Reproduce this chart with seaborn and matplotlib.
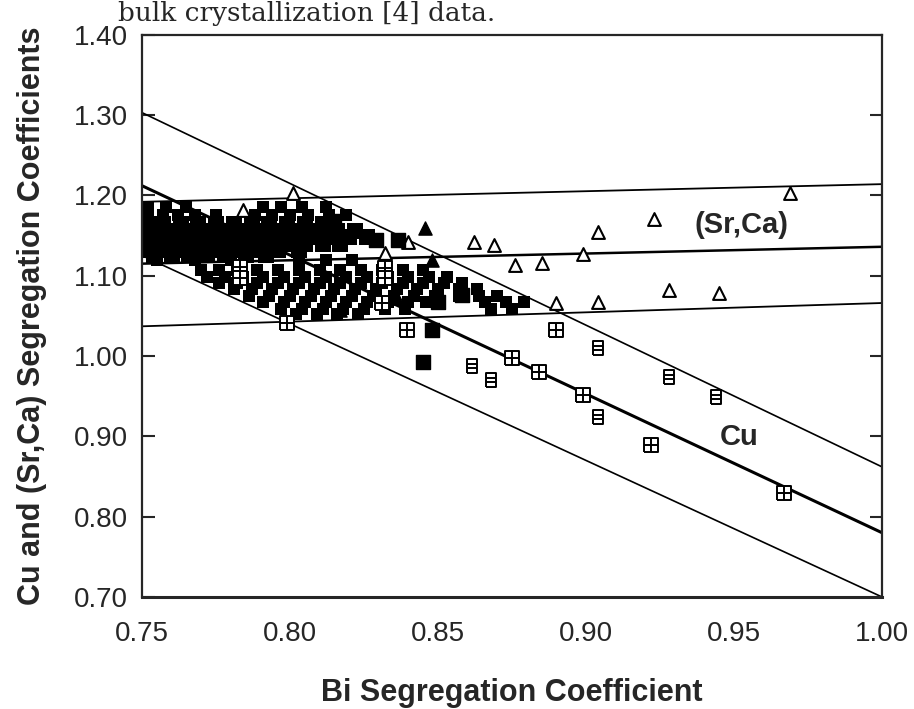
import matplotlib
matplotlib.use("Agg")
import matplotlib.pyplot as plt
from matplotlib.path import Path
import seaborn as sns

# axes
x_lim = [0.75, 1.00]
y_lim = [0.70, 1.40]
x_ticks = [0.75, 0.80, 0.85, 0.90, 0.95, 1.00]
y_ticks = [0.70, 0.80, 0.90, 1.00, 1.10, 1.20, 1.30, 1.40]

# band lines: y at x = 0.75 and x = 1.00
line_x = [0.75, 1.00]
cu_upper = [1.303, 0.862]
cu_mid = [1.212, 0.780]
cu_lower = [1.125, 0.700]
srca_top = [1.192, 1.214]
srca_mid = [1.115, 1.136]
srca_bot = [1.037, 1.066]

# (Sr,Ca) open triangles
srca_x = [0.784, 0.801, 0.832, 0.840, 0.862, 0.869, 0.876, 0.885, 0.890, 0.899,
          0.904, 0.904, 0.923, 0.928, 0.945, 0.969]
srca_y = [1.182, 1.203, 1.128, 1.142, 1.142, 1.138, 1.113, 1.116, 1.066, 1.127,
          1.067, 1.155, 1.170, 1.082, 1.079, 1.203]

# filled triangles
ftri_x = [0.8456, 0.848, 0.817, 0.836]
ftri_y = [1.160, 1.120, 1.057, 1.072]

# filled squares
fsq_x = [0.815, 0.829, 0.8365, 0.850, 0.858, 0.848, 0.845]
fsq_y = [1.168, 1.145, 1.145, 1.067, 1.076, 1.033, 0.993]

# Cu crossed squares
cux_x = [0.783, 0.783, 0.799, 0.832, 0.832, 0.831, 0.8395, 0.890, 0.875, 0.884,
         0.899, 0.922, 0.967]
cux_y = [1.111, 1.097, 1.041, 1.110, 1.097, 1.066, 1.033, 1.032, 0.998, 0.980,
         0.952, 0.889, 0.829]

# Cu lined squares
cul_x = [0.8615, 0.868, 0.904, 0.904, 0.928, 0.944]
cul_y = [0.987, 0.970, 1.010, 0.924, 0.974, 0.949]

# dense scanned cloud of points (rows: y, x values)
heavy_rows = [
    (1.164, [0.752, 0.757, 0.763, 0.769, 0.775, 0.781, 0.787, 0.793, 0.799, 0.805, 0.811]),
    (1.156, [0.752, 0.757, 0.762, 0.768, 0.774, 0.780, 0.786, 0.792, 0.798, 0.804, 0.810, 0.816, 0.822]),
    (1.148, [0.752, 0.758, 0.764, 0.770, 0.776, 0.782, 0.788, 0.795, 0.801, 0.807, 0.813, 0.820, 0.826]),
    (1.140, [0.752, 0.757, 0.763, 0.769, 0.775, 0.781, 0.787, 0.793, 0.799, 0.805, 0.811, 0.817]),
    (1.132, [0.753, 0.759, 0.765, 0.771, 0.777, 0.783, 0.789, 0.796, 0.803]),
    (1.126, [0.754, 0.760, 0.766, 0.772, 0.778, 0.785, 0.792]),
]
light_rows = [
    (1.185, [0.752, 0.758, 0.765, 0.791, 0.797, 0.804, 0.812]),
    (1.176, [0.752, 0.757, 0.762, 0.768, 0.775, 0.788, 0.794, 0.800, 0.806, 0.813, 0.819]),
    (1.119, [0.755, 0.768, 0.780, 0.803, 0.812, 0.821]),
    (1.107, [0.770, 0.776, 0.782, 0.789, 0.796, 0.803, 0.810, 0.817, 0.824, 0.831, 0.838, 0.845]),
    (1.099, [0.772, 0.778, 0.784, 0.791, 0.798, 0.805, 0.812, 0.819, 0.826, 0.833, 0.840, 0.847, 0.853]),
    (1.091, [0.776, 0.782, 0.789, 0.796, 0.803, 0.810, 0.817, 0.824, 0.831, 0.838, 0.845, 0.852, 0.858]),
    (1.083, [0.781, 0.787, 0.794, 0.801, 0.808, 0.815, 0.822, 0.829, 0.836, 0.843, 0.850, 0.857, 0.863]),
    (1.075, [0.786, 0.793, 0.800, 0.807, 0.814, 0.821, 0.828, 0.835, 0.842, 0.849, 0.857, 0.864, 0.870]),
    (1.067, [0.791, 0.798, 0.805, 0.812, 0.819, 0.826, 0.833, 0.840, 0.846, 0.866, 0.873, 0.879]),
    (1.059, [0.797, 0.804, 0.811, 0.818, 0.825, 0.832, 0.839, 0.868, 0.875]),
    (1.052, [0.802, 0.809, 0.816, 0.823]),
]

heavy_x = [x for y, xs in heavy_rows for x in xs]
heavy_y = [y for y, xs in heavy_rows for x in xs]
light_x = [x for y, xs in light_rows for x in xs]
light_y = [y for y, xs in light_rows for x in xs]

sns.set_style("ticks")
plt.rcParams['font.family'] = ['Liberation Sans', 'DejaVu Sans']

# marker shapes for the Cu squares
crossed_box = Path([(-1, -1), (1, -1), (1, 1), (-1, 1), (-1, -1),
                    (0, -1), (0, 1), (-1, 0), (1, 0)],
                   [Path.MOVETO, Path.LINETO, Path.LINETO, Path.LINETO, Path.LINETO,
                    Path.MOVETO, Path.LINETO, Path.MOVETO, Path.LINETO])
lined_box = Path([(-0.8, -1), (0.8, -1), (0.8, 1), (-0.8, 1), (-0.8, -1),
                  (-0.8, -0.33), (0.8, -0.33), (-0.8, 0.33), (0.8, 0.33)],
                 [Path.MOVETO, Path.LINETO, Path.LINETO, Path.LINETO, Path.LINETO,
                  Path.MOVETO, Path.LINETO, Path.MOVETO, Path.LINETO])

fig = plt.figure(figsize=(9.14, 7.09), dpi=100)
ax = fig.add_axes([0.1554, 0.158, 0.8096, 0.793])

# cloud
sns.scatterplot(x=light_x, y=light_y, marker='s', s=75, color='black', linewidth=0, ax=ax)
sns.scatterplot(x=heavy_x, y=heavy_y, marker='s', s=120, color='black', linewidth=0, ax=ax)

# lines
for ys, lw in [(cu_upper, 1.2), (cu_mid, 2.2), (cu_lower, 1.2),
               (srca_top, 1.3), (srca_mid, 1.8), (srca_bot, 1.3)]:
    sns.lineplot(x=line_x, y=ys, color='black', linewidth=lw, ax=ax)

# symbols
sns.scatterplot(x=srca_x, y=srca_y, marker='^', s=85, facecolor='white',
                edgecolor='black', linewidth=1.5, ax=ax, zorder=4)
sns.scatterplot(x=ftri_x, y=ftri_y, marker='^', s=90, color='black',
                edgecolor='black', linewidth=1, ax=ax, zorder=4)
sns.scatterplot(x=fsq_x, y=fsq_y, marker='s', s=95, color='black',
                edgecolor='black', linewidth=1, ax=ax, zorder=4)
sns.scatterplot(x=cux_x, y=cux_y, marker=crossed_box, s=95, facecolor='white',
                edgecolor='black', linewidth=1.4, ax=ax, zorder=4)
sns.scatterplot(x=cul_x, y=cul_y, marker=lined_box, s=95, facecolor='white',
                edgecolor='black', linewidth=1.4, ax=ax, zorder=4)

ax.text(0.9524, 1.163, '(Sr,Ca)', fontsize=21, fontweight='bold', ha='center', va='center')
ax.text(0.9517, 0.899, 'Cu', fontsize=21, fontweight='bold', ha='center', va='center')

ax.set_xlim(x_lim)
ax.set_ylim(y_lim)
ax.set_xticks(x_ticks)
ax.set_xticklabels([f'{t:.2f}' for t in x_ticks])
ax.set_yticks(y_ticks)
ax.set_yticklabels([f'{t:.2f}' for t in y_ticks])
ax.set_xticks([0.80, 0.85, 0.95], minor=True)
ax.tick_params(axis='x', which='major', length=0, labelsize=20, pad=17)
ax.tick_params(axis='x', which='minor', direction='in', length=4, width=1.5, top=True)
ax.tick_params(axis='y', which='major', direction='in', length=9, width=1.5,
               right=True, labelsize=20, pad=10)
for sp in ax.spines.values():
    sp.set_visible(True)
    sp.set_linewidth(1.6)
ax.spines['bottom'].set_linewidth(2.2)

ax.set_xlabel('Bi Segregation Coefficient', fontsize=22, fontweight='bold')
ax.set_ylabel('Cu and (Sr,Ca) Segregation Coefficients', fontsize=22, fontweight='bold')
ax.xaxis.set_label_coords(0.5, -0.144)
ax.yaxis.set_label_coords(-0.128, 0.5)

fig.text(118 / 914, 1 - 21 / 709, 'bulk crystallization [4] data.', family='DejaVu Serif',
         fontsize=19, va='baseline', ha='left')

fig.savefig('out.png', dpi=100)
